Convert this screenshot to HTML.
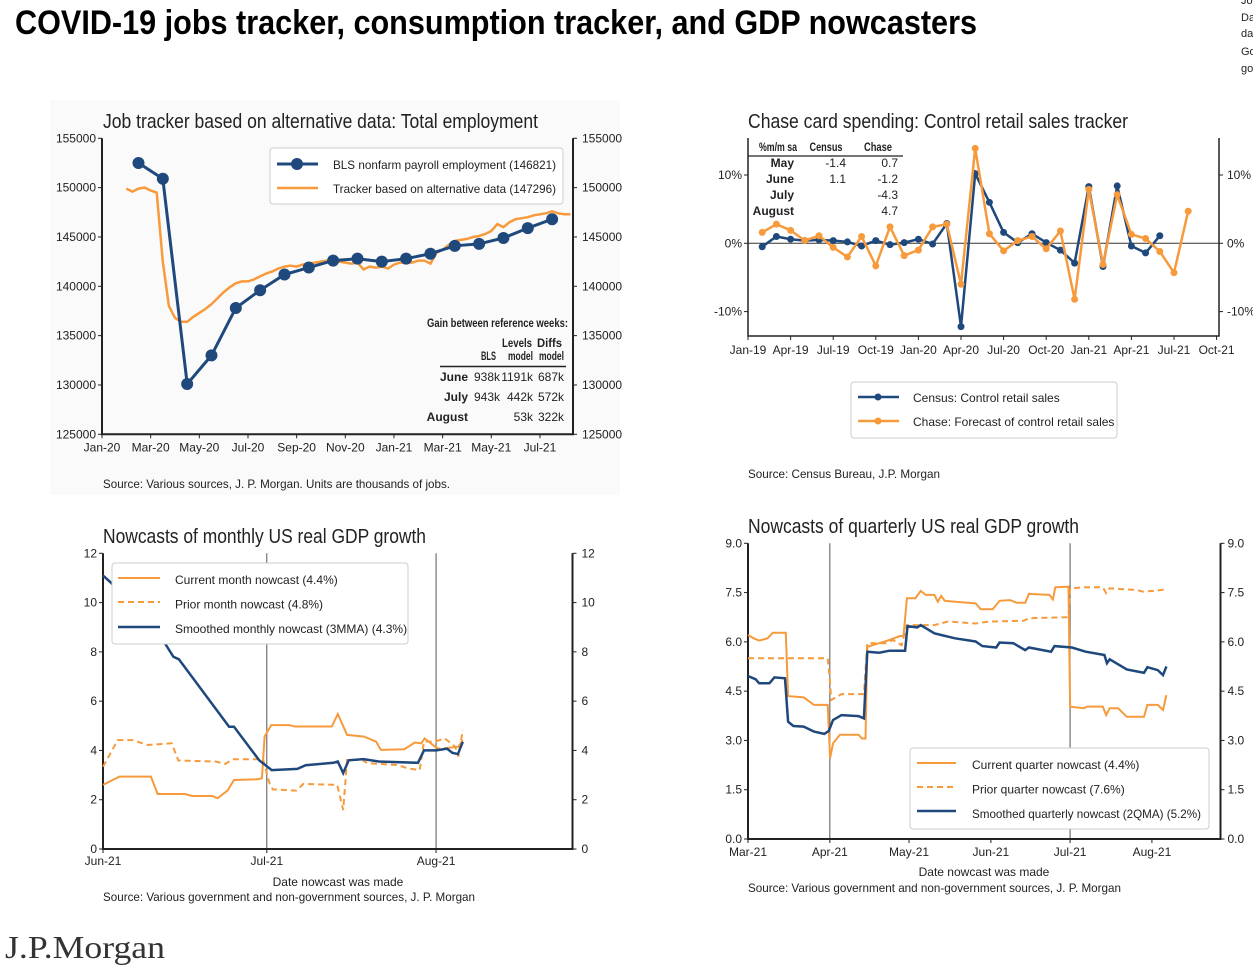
<!DOCTYPE html>
<html><head><meta charset="utf-8"><style>
html,body{margin:0;padding:0;background:#fff;width:1253px;height:965px;overflow:hidden}
svg{display:block}
text{font-family:"Liberation Sans Narrow","Liberation Sans",sans-serif;fill:#222}
.t{font-size:12px}
.ttl{font-size:20px;fill:#222}
.b{font-weight:bold}
</style></head><body>
<svg id="s" width="1253" height="965" viewBox="0 0 1253 965" xmlns="http://www.w3.org/2000/svg">
<text x="15" y="34" font-size="34" font-weight="bold" textLength="962" lengthAdjust="spacingAndGlyphs" style="font-family:'Liberation Sans Narrow','Liberation Sans',sans-serif;fill:#000">COVID-19 jobs tracker, consumption tracker, and GDP nowcasters</text>
<g font-size="11"><text x="1241" y="4" font-size="11">Jo</text><text x="1241" y="21" font-size="11">Da</text><text x="1241" y="37" font-size="11">da</text><text x="1241" y="55" font-size="11">Go</text><text x="1241" y="72" font-size="11">go</text></g>
<rect x="50" y="100" width="570" height="395" fill="#fafafa"/>
<text class="ttl" x="103" y="128" textLength="435" lengthAdjust="spacingAndGlyphs">Job tracker based on alternative data: Total employment</text>
<text class="ttl" x="748" y="128" textLength="380" lengthAdjust="spacingAndGlyphs">Chase card spending: Control retail sales tracker</text>
<text class="ttl" x="103" y="543" textLength="323" lengthAdjust="spacingAndGlyphs">Nowcasts of monthly US real GDP growth</text>
<text class="ttl" x="748" y="533" textLength="331" lengthAdjust="spacingAndGlyphs">Nowcasts of quarterly US real GDP growth</text>
<text class="t" x="103" y="488" textLength="347" lengthAdjust="spacingAndGlyphs">Source: Various sources, J. P. Morgan. Units are thousands of jobs.</text>
<text class="t" x="748" y="478" textLength="192" lengthAdjust="spacingAndGlyphs">Source: Census Bureau, J.P. Morgan</text>
<text class="t" x="338" y="886" text-anchor="middle">Date nowcast was made</text>
<text class="t" x="103" y="901" textLength="372" lengthAdjust="spacingAndGlyphs">Source: Various government and non-government sources, J. P. Morgan</text>
<text class="t" x="984" y="876" text-anchor="middle">Date nowcast was made</text>
<text class="t" x="748" y="892" textLength="373" lengthAdjust="spacingAndGlyphs">Source: Various government and non-government sources, J. P. Morgan</text>
<text x="5" y="958" font-size="32" style="font-family:'Liberation Serif',serif;fill:#333" textLength="160" lengthAdjust="spacingAndGlyphs">J.P.Morgan</text>
</svg>
<script>
const NS='http://www.w3.org/2000/svg';
const svg=document.getElementById('s');
const BLUE='#1f487c', ORANGE='#f79a3c', AX='#222';
function mk(tag,attrs,parent){const e=document.createElementNS(NS,tag);for(const k in attrs)e.setAttribute(k,attrs[k]);(parent||svg).appendChild(e);return e;}
function tx(str,x,y,anchor,parent,cls){const e=mk('text',{x:x,y:y,'text-anchor':anchor||'start',class:cls||'t'},parent);e.textContent=str;return e;}
function poly(xs,ys,fx,fy,style,parent){let d='';for(let i=0;i<xs.length;i++){d+=(i?'L':'M')+fx(xs[i]).toFixed(1)+','+fy(ys[i]).toFixed(1);}return mk('path',Object.assign({d:d,fill:'none'},style),parent);}

/* ---------------- Chart 1 data ---------------- */
const c1BlsMonths=[1.5,2.5,3.5,4.5,5.5,6.5,7.5,8.5,9.5,10.5,11.5,12.5,13.5,14.5,15.5,16.5,17.5,18.5];
const c1BlsValues=[152500,150900,130100,133000,137800,139600,141200,141900,142600,142800,142500,142800,143300,144100,144300,144900,145900,146800];
const c1TrackerStart=1.0, c1TrackerStep=0.25;
const c1TrackerValues=[149900,149600,149900,150000,149700,149500,142500,138000,136800,136400,136400,136900,137300,137700,138200,138800,139400,139900,140300,140500,140500,140700,141000,141300,141500,141800,142000,142100,142000,142200,142300,142400,142500,142600,142500,142500,142400,142300,142400,141700,142000,141900,142000,141800,142200,142400,142400,142400,142600,142600,142300,143400,143700,144200,144600,144700,144800,145000,145100,145300,145600,146300,146000,146500,146800,146900,147000,147200,147300,147400,147600,147400,147300,147300];
const c1YTicks=[125000,130000,135000,140000,145000,150000,155000];
const c1XLabels=['Jan-20','Mar-20','May-20','Jul-20','Sep-20','Nov-20','Jan-21','Mar-21','May-21','Jul-21'];
const c1TableRows=[['June','938k','1191k','687k'],['July','943k','442k','572k'],['August','','53k','322k']];
const c1LegendLabels=['BLS nonfarm payroll employment (146821)','Tracker based on alternative data (147296)'];

/* ---------------- Chart 2 data ---------------- */
const c2CensusStart=1;
const c2CensusValues=[-0.5,1.0,0.6,0.4,0.5,0.4,0.2,-0.4,0.4,-0.2,0.1,0.6,-0.1,2.9,-12.2,10.2,6.0,1.6,0.1,1.4,0.1,-1.0,-2.9,8.3,-3.4,8.4,-0.4,-1.4,1.1];
const c2ChaseStart=1;
const c2ChaseValues=[1.6,2.8,1.9,0.4,1.1,-0.6,-2.0,1.0,-3.3,2.4,-1.8,-1.0,2.4,2.8,-6.0,13.9,1.4,-1.1,0.4,1.0,-0.8,1.8,-8.2,7.9,-3.1,7.1,1.3,0.7,-1.2,-4.3,4.7];
const c2YTicks=[-10,0,10];
const c2XLabels=['Jan-19','Apr-19','Jul-19','Oct-19','Jan-20','Apr-20','Jul-20','Oct-20','Jan-21','Apr-21','Jul-21','Oct-21'];
const c2TableRows=[['May','-1.4','0.7'],['June','1.1','-1.2'],['July','','-4.3'],['August','','4.7']];
const c2LegendLabels=['Census: Control retail sales','Chase: Forecast of control retail sales'];

/* ---------------- Chart 3 data (days from Jun 1) ---------------- */
const c3SmoothDays=[0,1.5,11.3,12.9,13.9,23.1,24,28.6,30.9,35.6,37.1,42.2,43,44,45,47.7,50.5,57.7,58.8,61,63,64,65,65.9];
const c3SmoothValues=[11.1,10.8,8.36,7.8,7.7,4.96,4.96,3.6,3.2,3.25,3.4,3.5,3.55,3.08,3.6,3.65,3.55,3.5,4.0,4.0,4.07,3.9,3.85,4.35];
const c3CurrentDays=[0,3,8.8,10,15,16.3,20,21,22.8,24,28.3,29.1,29.6,30.8,34.2,35.1,41.9,43,44.7,47.8,50,50.9,55.2,57.1,58.3,58.9,60.8,62,62.6,65.1,65.9];
const c3CurrentValues=[2.6,2.94,2.94,2.23,2.23,2.15,2.15,2.06,2.37,2.8,2.83,2.87,4.56,5.03,5.03,4.97,4.97,5.48,4.63,4.56,4.36,4.02,4.05,4.32,4.29,4.49,4.15,4.02,4.09,4.15,4.42];
const c3PriorDays=[0,2.7,5.4,8.2,12.6,13.8,20.6,22.4,23.7,29.3,30.5,31.1,35.4,36.7,42.9,44,44.7,47.5,48.4,54,55.8,58,58.8,60.8,62.6,64.5,65.1,65.9];
const c3PriorValues=[3.34,4.42,4.42,4.22,4.29,3.59,3.55,3.45,3.64,3.64,2.67,2.42,2.37,2.64,2.6,1.58,3.61,3.61,3.48,3.41,3.27,3.2,4.36,4.36,4.49,4.15,3.75,4.83];
const c3YTicks=[0,2,4,6,8,10,12];
const c3XLabels=['Jun-21','Jul-21','Aug-21'];
const c3XLabelDays=[0,30,61];
const c3LegendLabels=['Current month nowcast (4.4%)','Prior month nowcast (4.8%)','Smoothed monthly nowcast (3MMA) (4.3%)'];

/* ---------------- Chart 4 data (days from Mar 1) ---------------- */
const c4CurrentDays=[0,2.2,4.2,7.4,9.4,14.3,15.2,21.1,25,30.2,31.1,32.2,34.8,41.9,43.2,44.5,45.2,49.7,53.6,57.6,58.9,60.2,63.4,65.4,67.3,70.6,71.9,73.2,74.5,78.4,86.2,88.2,92.7,95.3,99.2,101.8,105,106.4,114.2,115.5,116.4,121.4,122,127.2,128.5,134.4,135.7,137,140.2,143.5,150,151.3,155.2,157.2,158.5];
const c4CurrentValues=[6.21,6.11,6.04,6.11,6.28,6.28,4.35,4.31,4.08,4.08,2.46,2.91,3.17,3.17,3.06,3.06,5.85,5.96,6.06,6.18,6.18,7.33,7.33,7.55,7.43,7.43,7.22,7.4,7.25,7.22,7.17,6.99,6.99,7.25,7.27,7.19,7.19,7.46,7.43,7.29,7.66,7.68,4.03,3.98,4.03,4.03,3.77,3.98,3.98,3.72,3.72,4.08,4.08,3.93,4.38];
const c4PriorDays=[0,30.2,30.9,31.5,35.4,43.9,45.2,52.3,54.9,58.2,60.2,70.6,75.8,86.2,91.4,104.4,106.4,121.4,122,127.9,134.4,135.7,137,147.4,149.4,153.9,158.5];
const c4PriorValues=[5.5,5.5,4.94,4.23,4.41,4.41,5.96,5.96,6.06,5.9,6.51,6.51,6.62,6.56,6.62,6.64,6.72,6.75,7.63,7.66,7.66,7.48,7.63,7.58,7.53,7.55,7.6];
const c4SmoothDays=[0,2.9,4.2,8.1,10,14,15.2,17.2,21.1,25,28.9,30.6,32.2,35.4,41.9,43.9,45.2,49.7,53.6,59.5,60.4,64.1,65.4,70.6,73.2,78.4,86.2,88.8,94,95.3,100.5,105,106.4,114.8,116.1,122.7,127.9,135,136,137,143.5,150,151.3,155.2,157.2,158.5];
const c4SmoothValues=[4.96,4.86,4.74,4.74,4.92,4.89,3.57,3.44,3.42,3.27,3.2,3.29,3.62,3.77,3.74,3.67,5.7,5.67,5.73,5.73,6.48,6.44,6.51,6.26,6.21,6.11,6.01,5.87,5.83,5.98,5.96,5.75,5.83,5.7,5.87,5.83,5.7,5.6,5.35,5.47,5.16,5.06,5.23,5.14,4.99,5.25];
const c4YTicks=[0,1.5,3,4.5,6,7.5,9];
const c4XLabels=['Mar-21','Apr-21','May-21','Jun-21','Jul-21','Aug-21'];
const c4XLabelDays=[0,31,61,92,122,153];
const c4LegendLabels=['Current quarter nowcast (4.4%)','Prior quarter nowcast (7.6%)','Smoothed quarterly nowcast (2QMA) (5.2%)'];

function frame(g,L,R,T,B,name){
  const a=mk('path',{d:`M${L},${T}V${B}H${R}V${T}`,fill:'none',stroke:AX,'stroke-width':2},g);
  
  
}

/* ===== Chart 1 ===== */
(function(){
  const g=mk('g',{});
  
  
  const L=102,R=573,T=138.3,B=434.3;
  const fx=m=>L+m*24.33, fy=v=>B-(v-125000)/30000*(B-T);
  frame(g,L,R,T,B,'employment-chart');
  c1YTicks.forEach(v=>{const y=fy(v);
    mk('line',{x1:L-4,x2:L,y1:y,y2:y,stroke:AX},g);mk('line',{x1:R,x2:R+4,y1:y,y2:y,stroke:AX},g);
    const a=tx(String(v),L-6,y+4,'end',g);
    const b=tx(String(v),R+9,y+4,'start',g);});
  c1XLabels.forEach((s,i)=>{const x=fx(i*2);mk('line',{x1:x,x2:x,y1:B,y2:B+4,stroke:AX},g);
    const t=tx(s,x,B+17,'middle',g);});
  const tm=c1TrackerValues.map((v,i)=>c1TrackerStart+i*c1TrackerStep);
  const tl=poly(tm,c1TrackerValues,fx,fy,{stroke:ORANGE,'stroke-width':2.5},g);
  
  
  const bl=poly(c1BlsMonths,c1BlsValues,fx,fy,{stroke:BLUE,'stroke-width':3},g);
  
  
  c1BlsMonths.forEach((m,i)=>{const c=mk('circle',{cx:fx(m),cy:fy(c1BlsValues[i]),r:6,fill:BLUE},g);
    
    });
  const lg=mk('g',{},g);
  
  
  mk('rect',{x:270,y:148,width:293,height:56,rx:3,fill:'#fff',stroke:'#ccc'},lg);
  mk('line',{x1:277,x2:318,y1:164,y2:164,stroke:BLUE,'stroke-width':3},lg);
  mk('circle',{cx:297,cy:164,r:6,fill:BLUE},lg);
  mk('line',{x1:277,x2:318,y1:188,y2:188,stroke:ORANGE,'stroke-width':2.5},lg);
  c1LegendLabels.forEach((s,i)=>{const t=tx(s,333,169+i*24,'start',lg);t.setAttribute('font-size','12.5');t.setAttribute('textLength','223');t.setAttribute('lengthAdjust','spacingAndGlyphs');});
  const tb=mk('g',{},g);
  
  
  const h=tx('Gain between reference weeks:',568,327,'end',tb);h.setAttribute('font-size','10');h.setAttribute('class','t b');h.setAttribute('textLength','141');h.setAttribute('lengthAdjust','spacingAndGlyphs');
  [['Levels',532,347],['Diffs',562,347],['BLS',496,360],['model',533,360],['model',564,360]].forEach(a=>{const t=tx(a[0],a[1],a[2],'end',tb);t.setAttribute('font-size','9');t.setAttribute('class','t b');t.setAttribute('textLength',a[0].length*5);t.setAttribute('lengthAdjust','spacingAndGlyphs');});
  mk('line',{x1:440,x2:566,y1:366.5,y2:366.5,stroke:'#222','stroke-width':1.5},tb);
  const cx=[468,500,533,564];
  c1TableRows.forEach((r,i)=>r.forEach((s,j)=>{const t=tx(s,cx[j],381+i*20,'end',tb);t.setAttribute('font-size','9.5');if(j==0)t.setAttribute('class','t b');}));
})();

/* ===== Chart 2 ===== */
(function(){
  const g=mk('g',{});
  
  
  const L=748,R=1219,T=138,B=336;
  const fx=m=>L+m*14.2, fy=v=>243.3-v*6.83;
  const ax=mk('path',{d:`M${L},${T}V${B}H${R}V${T}`,fill:'none',stroke:AX,'stroke-width':1.5},g);
  
  
  mk('line',{x1:L,x2:R,y1:fy(0),y2:fy(0),stroke:'#333','stroke-width':1},g);
  c2YTicks.forEach(v=>{const y=fy(v);mk('line',{x1:L-4,x2:L,y1:y,y2:y,stroke:AX},g);mk('line',{x1:R,x2:R+4,y1:y,y2:y,stroke:AX},g);
    const a=tx(v+'%',L-6,y+4,'end',g);
    const b=tx(v+'%',R+8,y+4,'start',g);});
  c2XLabels.forEach((s,i)=>{const x=fx(i*3);mk('line',{x1:x,x2:x,y1:B,y2:B+4,stroke:AX},g);
    const t=tx(s,x,B+18,'middle',g);t.setAttribute('font-size','11.5');});
  const cm=c2CensusValues.map((v,i)=>c2CensusStart+i), hm=c2ChaseValues.map((v,i)=>c2ChaseStart+i);
  const cl=poly(cm,c2CensusValues,fx,fy,{stroke:BLUE,'stroke-width':2.5},g);
  
  
  cm.forEach((m,i)=>{const c=mk('circle',{cx:fx(m),cy:fy(c2CensusValues[i]),r:3.5,fill:BLUE},g);
    
    });
  const hl=poly(hm,c2ChaseValues,fx,fy,{stroke:ORANGE,'stroke-width':2.5},g);
  
  
  hm.forEach((m,i)=>{const c=mk('circle',{cx:fx(m),cy:fy(c2ChaseValues[i]),r:3.5,fill:ORANGE},g);
    
    });
  const tb=mk('g',{},g);
  
  
  [['%m/m sa',778,38],['Census',826,33],['Chase',878,28]].forEach(a=>{const t=tx(a[0],a[1],151,'middle',tb);t.setAttribute('font-size','9');t.setAttribute('class','t b');t.setAttribute('textLength',a[2]);t.setAttribute('lengthAdjust','spacingAndGlyphs');});
  mk('line',{x1:748,x2:903,y1:156,y2:156,stroke:'#222','stroke-width':1.2},tb);
  c2TableRows.forEach((r,i)=>{const y=167+i*16;const a=tx(r[0],794,y,'end',tb);a.setAttribute('font-size','10');a.setAttribute('class','t b');
    const b=tx(r[1],846,y,'end',tb);b.setAttribute('font-size','10');const c=tx(r[2],898,y,'end',tb);c.setAttribute('font-size','10');});
  const lg=mk('g',{},g);
  
  
  mk('rect',{x:851,y:382,width:266,height:56,rx:3,fill:'#fff',stroke:'#ccc'},lg);
  [[BLUE,397],[ORANGE,421]].forEach(a=>{mk('line',{x1:858,x2:899,y1:a[1],y2:a[1],stroke:a[0],'stroke-width':2.5},lg);mk('circle',{cx:878,cy:a[1],r:3.5,fill:a[0]},lg);});
  c2LegendLabels.forEach((s,i)=>{const t=tx(s,913,402+i*24,'start',lg);});
})();

/* ===== Chart 3 ===== */
(function(){
  const g=mk('g',{});
  
  
  const L=103,R=572.5,T=553.3,B=849;
  const fx=d=>L+d*5.46, fy=v=>B-v*(B-T)/12;
  c3XLabelDays.slice(1).forEach(d=>{const v=mk('line',{x1:fx(d),x2:fx(d),y1:T,y2:B,stroke:'#555','stroke-width':1},g);
    
    });
  frame(g,L,R,T,B,'monthly-gdp');
  c3YTicks.forEach(v=>{const y=fy(v);mk('line',{x1:L-4,x2:L,y1:y,y2:y,stroke:AX},g);mk('line',{x1:R,x2:R+4,y1:y,y2:y,stroke:AX},g);
    const a=tx(String(v),L-6,y+4,'end',g);
    const b=tx(String(v),R+9,y+4,'start',g);});
  c3XLabels.forEach((s,i)=>{const x=fx(c3XLabelDays[i]);mk('line',{x1:x,x2:x,y1:B,y2:B+4,stroke:AX},g);
    const t=tx(s,x,B+16,'middle',g);});
  const p=poly(c3PriorDays,c3PriorValues,fx,fy,{stroke:ORANGE,'stroke-width':2,'stroke-dasharray':'6,4'},g);
  
  
  const c=poly(c3CurrentDays,c3CurrentValues,fx,fy,{stroke:ORANGE,'stroke-width':2},g);
  
  
  const s=poly(c3SmoothDays,c3SmoothValues,fx,fy,{stroke:BLUE,'stroke-width':2.5},g);
  
  
  const lg=mk('g',{},g);
  
  
  mk('rect',{x:112,y:563,width:296,height:81,rx:3,fill:'#fff',stroke:'#ccc'},lg);
  mk('line',{x1:118,x2:160,y1:578,y2:578,stroke:ORANGE,'stroke-width':2},lg);
  mk('line',{x1:118,x2:160,y1:602,y2:602,stroke:ORANGE,'stroke-width':2,'stroke-dasharray':'6,4'},lg);
  mk('line',{x1:118,x2:160,y1:627,y2:627,stroke:BLUE,'stroke-width':2.5},lg);
  c3LegendLabels.forEach((s,i)=>{const t=tx(s,175,584+i*24.5,'start',lg);t.setAttribute('font-size','12.6');});
})();

/* ===== Chart 4 ===== */
(function(){
  const g=mk('g',{});
  
  
  const L=748,R=1220.5,T=543.3,B=839;
  const fx=d=>L+d*2.64, fy=v=>B-v*(B-T)/9;
  [31,122].forEach(d=>{const v=mk('line',{x1:fx(d),x2:fx(d),y1:T,y2:B,stroke:'#555','stroke-width':1},g);
    
    });
  frame(g,L,R,T,B,'quarterly-gdp');
  c4YTicks.forEach(v=>{const y=fy(v);mk('line',{x1:L-4,x2:L,y1:y,y2:y,stroke:AX},g);mk('line',{x1:R,x2:R+4,y1:y,y2:y,stroke:AX},g);
    const a=tx(v.toFixed(1),L-6,y+4,'end',g);
    const b=tx(v.toFixed(1),R+7,y+4,'start',g);});
  c4XLabels.forEach((s,i)=>{const x=fx(c4XLabelDays[i]);mk('line',{x1:x,x2:x,y1:B,y2:B+4,stroke:AX},g);
    const t=tx(s,x,B+17,'middle',g);});
  const p=poly(c4PriorDays,c4PriorValues,fx,fy,{stroke:ORANGE,'stroke-width':2,'stroke-dasharray':'6,4'},g);
  
  
  const c=poly(c4CurrentDays,c4CurrentValues,fx,fy,{stroke:ORANGE,'stroke-width':2},g);
  
  
  const s=poly(c4SmoothDays,c4SmoothValues,fx,fy,{stroke:BLUE,'stroke-width':2.5},g);
  
  
  const lg=mk('g',{},g);
  
  
  mk('rect',{x:910,y:748,width:299,height:81,rx:3,fill:'#fff',stroke:'#ccc'},lg);
  mk('line',{x1:917,x2:956,y1:763,y2:763,stroke:ORANGE,'stroke-width':2},lg);
  mk('line',{x1:917,x2:956,y1:787,y2:787,stroke:ORANGE,'stroke-width':2,'stroke-dasharray':'6,4'},lg);
  mk('line',{x1:917,x2:956,y1:811,y2:811,stroke:BLUE,'stroke-width':2.5},lg);
  c4LegendLabels.forEach((s,i)=>{const t=tx(s,972,769+i*24.5,'start',lg);t.setAttribute('font-size','12.4');if(i==2){t.setAttribute('textLength','229');t.setAttribute('lengthAdjust','spacingAndGlyphs');}});
})();
</script>
</body></html>
